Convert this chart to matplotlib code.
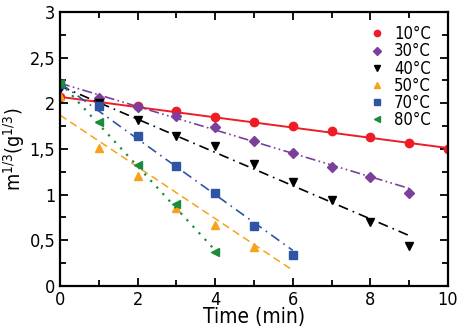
import numpy as np
import matplotlib
matplotlib.use('Agg')
import matplotlib.pyplot as plt
from matplotlib.ticker import MultipleLocator, FuncFormatter

plt.rcParams['font.family'] = 'DejaVu Sans'
plt.rcParams['font.stretch'] = 'condensed'

labels = ['10°C', '30°C', '40°C', '50°C', '70°C', '80°C']

t10 = [0, 1, 2, 3, 4, 5, 6, 7, 8, 9, 10]
m10 = [2.07, 2.03, 1.97, 1.91, 1.85, 1.80, 1.75, 1.70, 1.635, 1.57, 1.50]
t30 = [0, 1, 2, 3, 4, 5, 6, 7, 8, 9]
m30 = [2.19, 2.055, 1.96, 1.86, 1.74, 1.59, 1.46, 1.30, 1.19, 1.015]
t40 = [0, 1, 2, 3, 4, 5, 6, 7, 8, 9]
m40 = [2.16, 2.0, 1.82, 1.64, 1.53, 1.34, 1.14, 0.94, 0.70, 0.44]
t50 = [0, 1, 2, 3, 4, 5]
m50 = [2.08, 1.51, 1.205, 0.85, 0.67, 0.43]
t70 = [0, 1, 2, 3, 4, 5, 6]
m70 = [2.21, 1.97, 1.64, 1.31, 1.02, 0.66, 0.34]
t80 = [0, 1, 2, 3, 4]
m80 = [2.22, 1.79, 1.325, 0.90, 0.376]

# linear fits: intercept, slope, last time
fit_a = [2.07, 2.22, 2.19, 1.87, 2.22, 2.23]
fit_b = [-0.056, -0.128, -0.182, -0.283, -0.305, -0.46]
fit_end = [10, 9, 9, 6, 6, 4]

colors = ['#ee1c25', '#7b3f9e', 'black', '#f7a21b', '#2e55a5', '#1a8c3c']
markers = ['o', 'D', 'v', '^', 's', '<']
msizes = [6, 5.5, 6, 6, 5.5, 6]
styles = ['-', (0, (6, 2, 1, 2, 1, 2)), (0, (6, 3, 1, 3)), (0, (5, 3)),
          (0, (6, 3, 1, 3)), (0, (1, 3))]
widths = [1.4, 1.2, 1.2, 1.1, 1.2, 1.6]

times = [t10, t30, t40, t50, t70, t80]
vals = [m10, m30, m40, m50, m70, m80]

fig = plt.figure(figsize=(4.58, 3.31), dpi=100)
ax = fig.add_axes([0.131, 0.136, 0.847, 0.828])

for i in range(6):
    tt = np.linspace(0, fit_end[i], 50)
    ax.plot(tt, fit_a[i] + fit_b[i] * tt, color=colors[i], linestyle=styles[i],
            linewidth=widths[i])
    ax.plot(times[i], vals[i], linestyle='none', marker=markers[i],
            color=colors[i], markersize=msizes[i], label=labels[i])

ax.set_xlim(0, 10)
ax.set_ylim(0, 3)
ax.xaxis.set_major_locator(MultipleLocator(2))
ax.xaxis.set_minor_locator(MultipleLocator(1))
ax.yaxis.set_major_locator(MultipleLocator(0.5))
ax.yaxis.set_minor_locator(MultipleLocator(0.25))
ax.yaxis.set_major_formatter(FuncFormatter(lambda v, p: ('%g' % v).replace('.', ',')))
ax.tick_params(which='both', direction='in', top=True, right=True, width=1.3)
ax.tick_params(which='major', length=6, labelsize=13)
ax.tick_params(which='minor', length=4)
for s in ax.spines.values():
    s.set_linewidth(1.6)

ax.set_xlabel('Time (min)', fontsize=15, labelpad=-1)
ax.set_ylabel(r'm$^{1/3}$(g$^{1/3}$)', fontsize=14)
ax.yaxis.set_label_coords(-0.085, 0.5)

ax.legend(loc='upper right', frameon=False, fontsize=12, handlelength=1,
          handletextpad=0.5, labelspacing=-0.05, borderaxespad=0.4,
          markerscale=0.75, bbox_to_anchor=(0.99, 1.0))

fig.savefig('out.png', dpi=100)
